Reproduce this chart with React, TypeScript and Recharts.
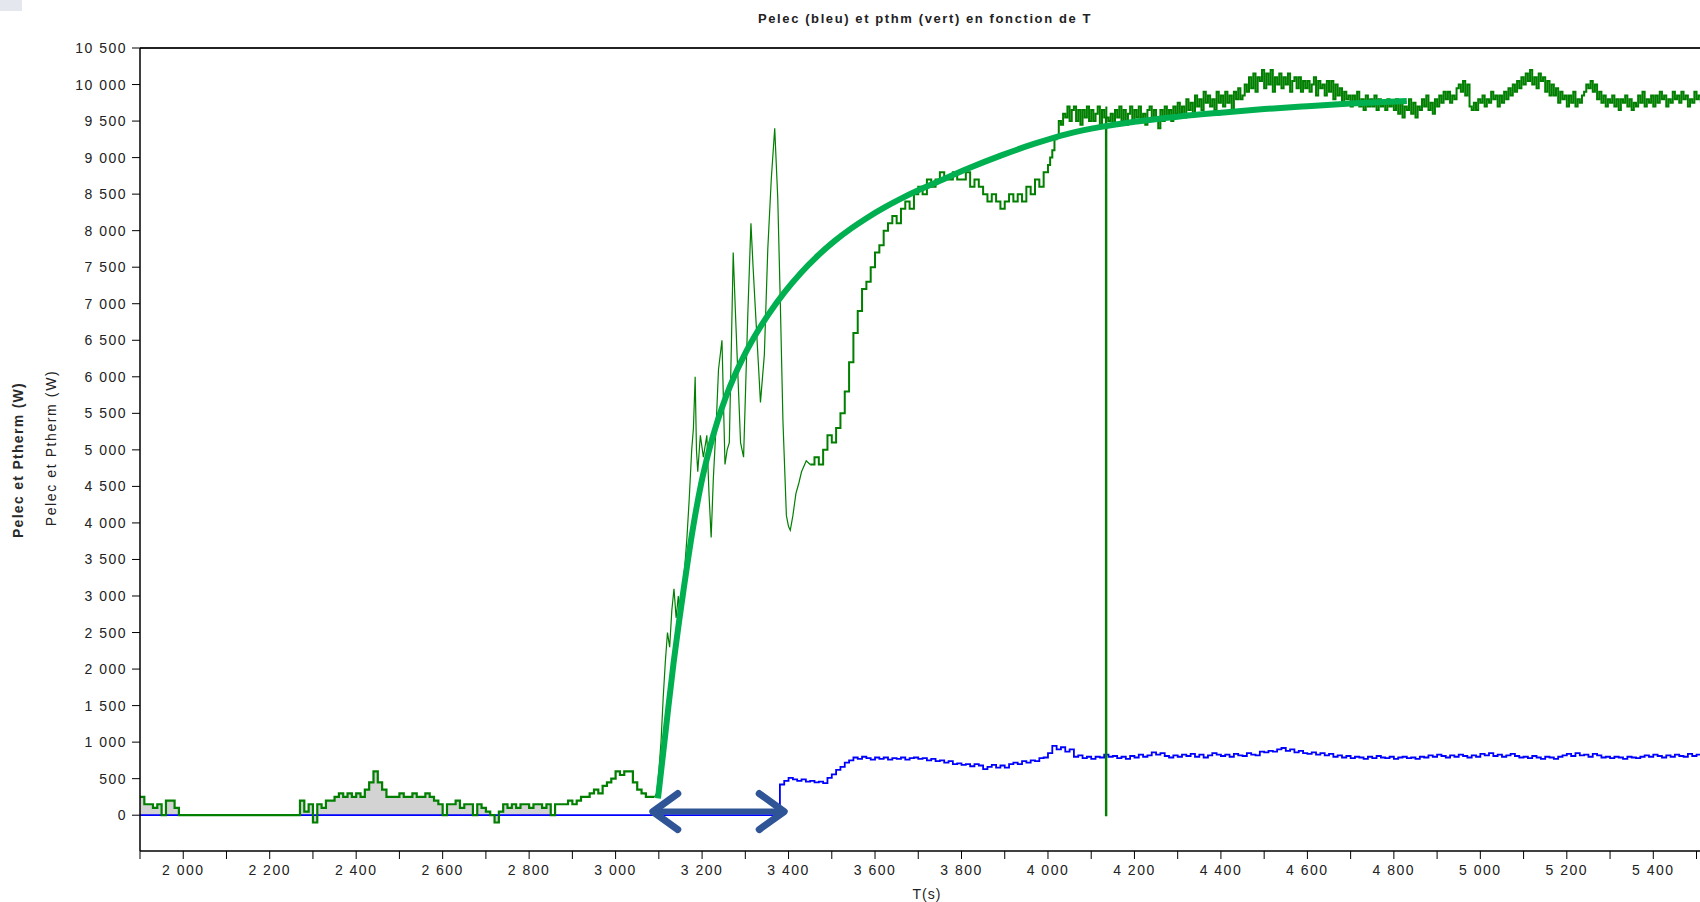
import React from "react";
import {
  ComposedChart,
  Line,
  Area,
  XAxis,
  YAxis,
  ReferenceLine,
} from "recharts";

const FONT = "'Liberation Sans', Arial, sans-serif";

// Pthm (green), sampled every 10 s from 1900 s to 3090 s
const pthmEarly = [
  250, 150, 150, 100, 150, 0, 200, 200, 100, 0,
  0, 0, 0, 0, 0, 0, 0, 0, 0, 0,
  0, 0, 0, 0, 0, 0, 0, 0, 0, 0,
  0, 0, 0, 0, 0, 0, 0, 200, 50, 150,
  -100, 150, 100, 200, 200, 250, 300, 250, 300, 250,
  300, 250, 350, 450, 600, 450, 350, 250, 250, 250,
  300, 250, 250, 300, 250, 250, 300, 250, 200, 150,
  0, 150, 150, 200, 100, 150, 150, 0, 150, 100,
  50, 0, -100, 50, 150, 100, 150, 100, 150, 150,
  100, 150, 150, 100, 150, 0, 150, 150, 150, 200,
  150, 200, 250, 250, 300, 350, 300, 400, 450, 500,
  600, 550, 600, 600, 450, 350, 300, 250, 250, 250,
];

// Pthm during the start-up oscillations (t, W)
const pthmRise: [number, number][] = [
  [3090, 250], [3095, 300], [3100, 600], [3105, 1000], [3110, 1600],
  [3115, 2100], [3120, 2500], [3125, 2300], [3130, 2800], [3135, 3100],
  [3140, 2700], [3145, 3000], [3150, 2600], [3155, 3100], [3160, 3400],
  [3165, 3800], [3170, 4300], [3176, 5000], [3180, 5300], [3184, 6000],
  [3187, 5000], [3190, 4700], [3196, 5200], [3203, 4900], [3211, 5200],
  [3216, 4400], [3221, 3800], [3226, 4600], [3233, 5400], [3238, 6100],
  [3246, 6500], [3253, 4800], [3258, 5000], [3263, 5100], [3268, 6500],
  [3272, 7700], [3277, 6900], [3281, 6300], [3289, 5100], [3296, 4900],
  [3301, 5900], [3306, 6900], [3313, 8100], [3318, 7500], [3323, 6950],
  [3330, 6200], [3335, 5650], [3344, 6300], [3352, 7750], [3360, 8700],
  [3368, 9400], [3375, 8450], [3381, 7000], [3387, 5400], [3395, 4100],
  [3400, 3950], [3404, 3900], [3410, 4100], [3417, 4400], [3424, 4550],
  [3430, 4700], [3441, 4850], [3450, 4800],
];

// Pthm every 10 s from 3450 s to 3990 s
const pthmClimb = [
  4800, 4900, 4800, 5000, 5200, 5100, 5300, 5500, 5800, 6200,
  6600, 6900, 7200, 7300, 7500, 7700, 7800, 8000, 8100, 8200,
  8100, 8300, 8400, 8300, 8500, 8600, 8500, 8700, 8600, 8700,
  8800, 8700, 8700, 8800, 8700, 8700, 8800, 8600, 8700, 8600,
  8500, 8400, 8500, 8400, 8300, 8400, 8500, 8400, 8500, 8400,
  8600, 8500, 8700, 8600, 8800,
];

// Pthm every 5 s from 4000 s to 5510 s
const pthmHigh = [
  8900, 9000, 9100, 9250, 9300, 9500, 9450, 9600, 9550, 9700,
  9500, 9650, 9700, 9500, 9650, 9450, 9650, 9550, 9700, 9500,
  9650, 9500, 9600, 9700, 9450, 9650, 9550, 9700, 9500, 9600,
  9450, 9650, 9550, 9700, 9500, 9650, 9450, 9600, 9700, 9500,
  9650, 9550, 9700, 9500, 9600, 9450, 9650, 9700, 9500, 9650,
  9550, 9400, 9650, 9500, 9700, 9550, 9650, 9500, 9700, 9600,
  9750, 9600, 9700, 9550, 9800, 9650, 9750, 9600, 9850, 9700,
  9800, 9650, 9900, 9750, 9850, 9700, 9800, 9650, 9900, 9750,
  9850, 9700, 9900, 9750, 9850, 9650, 9900, 9800, 9950, 9800,
  9850, 10000, 9900, 10100, 9950, 10150, 9900, 10100, 10050, 10200,
  9950, 10150, 10000, 10200, 9900, 10100, 10000, 10150, 9950, 10100,
  10000, 10150, 9900, 10050, 10100, 9950, 10100, 9900, 10050, 9950,
  10050, 9900, 10000, 10100, 9850, 10050, 9950, 10000, 9850, 10050,
  9900, 10050, 9800, 10000, 9850, 9950, 9750, 9900, 9800, 9850,
  9700, 9850, 9750, 9900, 9700, 9800, 9650, 9850, 9700, 9800,
  9700, 9850, 9650, 9800, 9700, 9750, 9650, 9800, 9700, 9750,
  9650, 9800, 9600, 9750, 9550, 9700, 9650, 9800, 9600, 9750,
  9550, 9700, 9650, 9800, 9700, 9850, 9650, 9750, 9600, 9800,
  9700, 9850, 9750, 9900, 9800, 9900, 9750, 9850, 9800, 9950,
  10000, 9900, 10050, 9850, 10000, 9700, 9650, 9750, 9650, 9800,
  9750, 9850, 9700, 9800, 9750, 9900, 9800, 9850, 9700, 9850,
  9750, 9900, 9800, 9950, 9850, 10000, 9900, 10050, 9950, 10100,
  10000, 10150, 10050, 10200, 10000, 10100, 9950, 10150, 10050, 10100,
  9900, 10050, 9850, 10000, 9850, 9950, 9750, 9900, 9800, 9850,
  9700, 9850, 9750, 9900, 9700, 9800, 9750, 9850, 9900, 10000,
  9950, 10050, 9900, 10000, 9800, 9900, 9750, 9850, 9700, 9800,
  9750, 9850, 9700, 9800, 9650, 9800, 9750, 9850, 9700, 9800,
  9650, 9750, 9700, 9850, 9750, 9900, 9700, 9800, 9750, 9850,
  9700, 9850, 9750, 9900, 9800, 9850, 9700, 9800, 9750, 9900,
  9800, 9850, 9750, 9900, 9800, 9850, 9700, 9800, 9750, 9900,
  9800, 9850, 9750,
];

// single dropout of the Pthm sensor
const pthmDropout: [number, number][] = [
  [4134, 0],
  [4135, 9550],
];

// Pelec (blue): flat zero, then every 10 s from 3370 s
const pelecZero: [number, number][] = [
  [1900, 0],
  [3360, 0],
];
const pelec = [
  130, 420, 470, 510, 490, 470, 490, 460, 470, 450,
  460, 440, 510, 560, 620, 660, 720, 750, 790, 770,
  800, 780, 760, 790, 770, 790, 760, 780, 770, 790,
  760, 780, 790, 770, 780, 750, 770, 740, 750, 720,
  740, 700, 710, 690, 700, 670, 700, 680, 630, 660,
  690, 650, 680, 650, 700, 720, 700, 740, 720, 750,
  740, 780, 790, 850, 950, 900, 930, 870, 900, 800,
  820, 780, 800, 770, 800, 790, 830, 800, 810, 780,
  800, 770, 810, 790, 830, 800, 820, 860, 830, 850,
  810, 790, 820, 800, 830, 810, 840, 800, 830, 790,
  820, 850, 830, 810, 830, 800, 840, 820, 810, 850,
  830, 820, 870, 860, 880, 870, 900, 920, 880, 900,
  860, 880, 850, 840, 860, 830, 850, 820, 840, 800,
  820, 790, 810, 780, 800, 790, 770, 800, 780, 810,
  790, 780, 800, 770, 790, 800, 780, 790, 770, 800,
  790, 820, 800, 830, 810, 790, 820, 800, 830, 810,
  790, 820, 800, 840, 820, 850, 810, 830, 800, 820,
  840, 810, 790, 800, 780, 810, 790, 770, 800, 790,
  770, 800, 820, 840, 810, 850, 820, 830, 800, 840,
  820, 790, 800, 780, 800, 790, 770, 800, 790, 780,
  800, 820, 800, 830, 810, 790, 820, 800, 830, 810,
  800, 840, 810, 830, 820,
];

// hand-drawn first-order fit over Pthm
const fitT = [
  3098, 3110, 3122, 3134, 3146, 3158, 3169, 3183, 3198, 3216, 3236, 3255,
  3275, 3294, 3313, 3352, 3390, 3429, 3467, 3506, 3545, 3583, 3622, 3660,
  3700, 3737, 3815, 3892, 3969, 4046, 4123, 4200, 4300, 4400, 4500, 4600,
  4700, 4830,
];
const fitV = [
  230, 850, 1480, 2080, 2620, 3120, 3560, 4070, 4541, 4991, 5401, 5724,
  6014, 6253, 6466, 6840, 7152, 7425, 7653, 7856, 8031, 8181, 8318, 8438,
  8552, 8648, 8850, 9030, 9190, 9325, 9420, 9490, 9560, 9615, 9664, 9704,
  9740, 9775,
];

// delay arrow
const delayT = [3086, 3390];
const delayV = 50;

const tTicks = [
  1900, 2000, 2100, 2200, 2300, 2400, 2500, 2600, 2700, 2800, 2900, 3000,
  3100, 3200, 3300, 3400, 3500, 3600, 3700, 3800, 3900, 4000, 4100, 4200,
  4300, 4400, 4500, 4600, 4700, 4800, 4900, 5000, 5100, 5200, 5300, 5400,
  5500,
];
const pTicks = [
  0, 500, 1000, 1500, 2000, 2500, 3000, 3500, 4000, 4500, 5000, 5500, 6000,
  6500, 7000, 7500, 8000, 8500, 9000, 9500, 10000, 10500,
];

const onGrid = (start: number, step: number, vals: number[]) =>
  vals.map((v, i) => ({ t: start + i * step, v }));
const fromPairs = (pairs: [number, number][]) =>
  pairs.map(([t, v]) => ({ t, v }));

const earlyRows = onGrid(1900, 10, pthmEarly);
const shadedRows = earlyRows.filter((p) => p.t <= 2850);
const riseRows = fromPairs(pthmRise);
const lateRows = [
  ...onGrid(3450, 10, pthmClimb),
  ...onGrid(4000, 5, pthmHigh),
  ...fromPairs(pthmDropout),
].sort((a, b) => a.t - b.t);
const pelecRows = [...fromPairs(pelecZero), ...onGrid(3370, 10, pelec)];
const fitRows = fitT.map((t, i) => ({ t, v: fitV[i] }));
const arrowRows = delayT.map((t) => ({ t, v: delayV }));

const spaced = (n: number) =>
  String(n).replace(/\B(?=(\d{3})+(?!\d))/g, " ");

const tickStyle = {
  fill: "#222",
  fontSize: 14,
  fontFamily: FONT,
  letterSpacing: 1.5,
};

const ARROW = "#2f5597";

function Chevron(props: any) {
  const { cx, cy, index } = props;
  const d = index === 0 ? 1 : -1;
  return (
    <path
      key={`chev-${index}`}
      d={`M${cx + d * 25},${cy - 18} L${cx},${cy} L${cx + d * 25},${cy + 18}`}
      fill="none"
      stroke={ARROW}
      strokeWidth={7}
      strokeLinecap="round"
      strokeLinejoin="round"
    />
  );
}

export default function App() {
  return (
    <div
      style={{
        position: "absolute",
        left: 0,
        top: 0,
        width: 1700,
        height: 902,
        overflow: "hidden",
        background: "#fff",
        fontFamily: FONT,
      }}
    >
      <div
        style={{
          position: "absolute",
          left: 0,
          top: 0,
          width: 22,
          height: 11,
          background: "#e4e8ee",
        }}
      />
      <ComposedChart
        width={1800}
        height={902}
        margin={{ top: 48, right: 17, left: 0, bottom: 0 }}
      >
        <XAxis
          type="number"
          dataKey="t"
          domain={[1900, 5700]}
          ticks={tTicks}
          allowDataOverflow
          height={51}
          tickSize={8}
          tickMargin={6}
          axisLine={{ stroke: "#000", strokeWidth: 1.5 }}
          tickLine={{ stroke: "#000" }}
          tick={tickStyle}
          tickFormatter={(v: number) => (v % 200 === 0 ? spaced(v) : "")}
          interval={0}
        />
        <YAxis
          type="number"
          domain={[-490, 10500]}
          ticks={pTicks}
          allowDataOverflow
          width={140}
          tickSize={8}
          tickMargin={5}
          axisLine={{ stroke: "#000", strokeWidth: 1.5 }}
          tickLine={{ stroke: "#000" }}
          tick={tickStyle}
          tickFormatter={(v: number) => spaced(v)}
          interval={0}
        />
        <ReferenceLine y={10500} stroke="#222" strokeWidth={2} />
        <Area
          data={shadedRows}
          dataKey="v"
          type="stepAfter"
          fill="#d3d3d3"
          fillOpacity={1}
          stroke="none"
          isAnimationActive={false}
        />
        <Line
          data={pelecRows}
          dataKey="v"
          type="stepAfter"
          stroke="#0000ff"
          strokeWidth={1.8}
          dot={false}
          activeDot={false}
          isAnimationActive={false}
        />
        <Line
          data={earlyRows}
          dataKey="v"
          type="stepAfter"
          stroke="#007f00"
          strokeWidth={2.2}
          dot={false}
          activeDot={false}
          isAnimationActive={false}
        />
        <Line
          data={riseRows}
          dataKey="v"
          type="linear"
          stroke="#007f00"
          strokeWidth={1.2}
          dot={false}
          activeDot={false}
          isAnimationActive={false}
        />
        <Line
          data={lateRows}
          dataKey="v"
          type="stepAfter"
          stroke="#007f00"
          strokeWidth={2}
          dot={false}
          activeDot={false}
          isAnimationActive={false}
        />
        <Line
          data={fitRows}
          dataKey="v"
          type="monotone"
          stroke="#00b050"
          strokeWidth={6}
          dot={false}
          activeDot={false}
          isAnimationActive={false}
        />
        <Line
          data={arrowRows}
          dataKey="v"
          type="linear"
          stroke={ARROW}
          strokeWidth={6}
          dot={Chevron}
          activeDot={false}
          isAnimationActive={false}
        />
      </ComposedChart>
      <div
        style={{
          position: "absolute",
          left: 925,
          top: 18,
          transform: "translate(-50%, -50%)",
          whiteSpace: "nowrap",
          fontSize: 13,
          fontWeight: "bold",
          letterSpacing: 1.6,
          color: "#222",
        }}
      >
        Pelec (bleu) et pthm (vert) en fonction de T
      </div>
      <div
        style={{
          position: "absolute",
          left: 51,
          top: 448,
          transform: "translate(-50%, -50%) rotate(-90deg)",
          whiteSpace: "nowrap",
          fontSize: 14,
          letterSpacing: 1.6,
          color: "#222",
        }}
      >
        Pelec et Ptherm (W)
      </div>
      <div
        style={{
          position: "absolute",
          left: 18,
          top: 460,
          transform: "translate(-50%, -50%) rotate(-90deg)",
          whiteSpace: "nowrap",
          fontSize: 14,
          fontWeight: "bold",
          letterSpacing: 1.3,
          color: "#2a2a2a",
        }}
      >
        Pelec et Ptherm (W)
      </div>
      <div
        style={{
          position: "absolute",
          left: 927,
          top: 894,
          transform: "translate(-50%, -50%)",
          whiteSpace: "nowrap",
          fontSize: 14,
          letterSpacing: 1,
          color: "#222",
        }}
      >
        T(s)
      </div>
    </div>
  );
}
